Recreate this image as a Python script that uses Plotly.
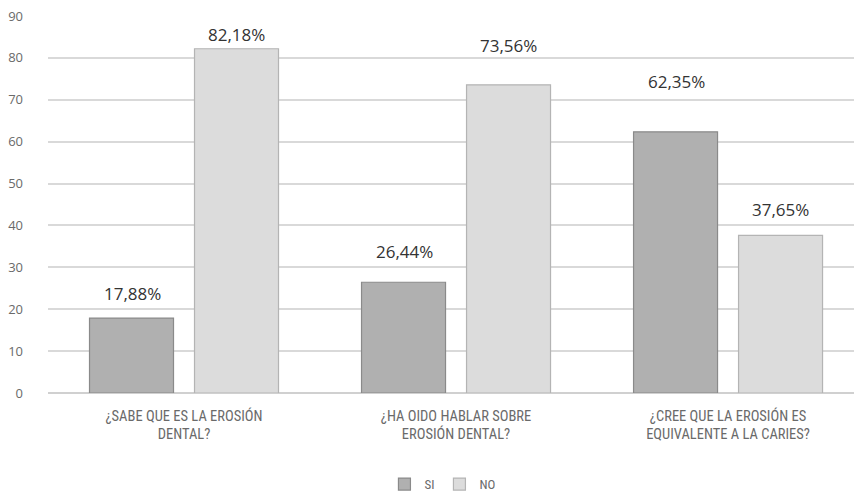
import plotly.graph_objects as go

categories = ["¿SABE QUE ES LA EROSIÓN<br>DENTAL?",
              "¿HA OIDO HABLAR SOBRE<br>EROSIÓN DENTAL?",
              "¿CREE QUE LA EROSIÓN ES<br>EQUIVALENTE A LA CARIES?"]
si_values = [17.88, 26.44, 62.35]
no_values = [82.18, 73.56, 37.65]
si_labels = ["17,88%", "26,44%", "62,35%"]
no_labels = ["82,18%", "73,56%", "37,65%"]
y_ticks = [0, 10, 20, 30, 40, 50, 60, 70, 80, 90]

# label vertical offsets (px) above bar tops, as in the reference
si_shift = [25, 31, 50]
no_shift = [14, 39, 26]

x_idx = list(range(len(categories)))
narrow = "Liberation Sans Narrow, Roboto Condensed, Roboto, sans-serif"

fig = go.Figure()
fig.add_trace(go.Bar(name="SI", x=x_idx, y=si_values,
                     marker=dict(color="#b0b0b0", line=dict(color="#8a8a8a", width=1.2))))
fig.add_trace(go.Bar(name="NO", x=x_idx, y=no_values,
                     marker=dict(color="#dcdcdc", line=dict(color="#b4b4b4", width=1.2))))

annos = []
for i in x_idx:
    annos.append(dict(x=i, y=si_values[i], text=si_labels[i], xshift=-52, yshift=si_shift[i],
                      showarrow=False, yanchor="middle",
                      font=dict(size=17, color="#333333", family="Open Sans", weight=500)))
    annos.append(dict(x=i, y=no_values[i], text=no_labels[i], xshift=52, yshift=no_shift[i],
                      showarrow=False, yanchor="middle",
                      font=dict(size=17, color="#333333", family="Open Sans", weight=500)))

fig.update_layout(
    width=854, height=495,
    margin=dict(l=48, r=0, t=16, b=102),
    plot_bgcolor="white", paper_bgcolor="white",
    barmode="group", bargap=0.228, bargroupgap=0.2,
    annotations=annos,
    showlegend=True,
    legend=dict(orientation="h", xanchor="center", x=0.49, yref="container", y=0.022,
                yanchor="middle", font=dict(size=13, color="#6a6a6a", family=narrow),
                itemwidth=30, traceorder="normal"),
    xaxis=dict(range=[-0.5, 2.463], tickmode="array", tickvals=x_idx, ticktext=categories,
               showgrid=False, zeroline=False, showline=False, ticklabelstandoff=12,
               tickfont=dict(size=14.5, color="#6a6a6a", family=narrow)),
    yaxis=dict(range=[0, 90], tickvals=y_ticks, showgrid=True, gridcolor="#d9d9d9", gridwidth=1.5,
               zeroline=True, zerolinecolor="#d0d0d0", zerolinewidth=1.5,
               tickfont=dict(size=13, color="#6a6a6a", family="Open Sans"), ticklabelstandoff=24),
)

fig.write_html("out.html")
